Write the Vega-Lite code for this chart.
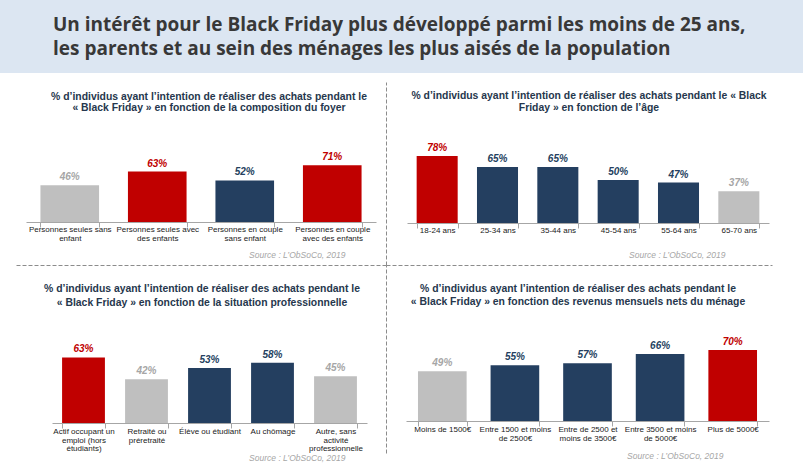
{
  "$schema": "https://vega.github.io/schema/vega-lite/v6.json",
  "padding": 0,
  "background": "white",
  "spacing": 0,
  "bounds": "flush",
  "config": {
    "view": {"stroke": null},
    "concat": {"spacing": 0},
    "font": "Liberation Sans",
    "axisX": {
      "domainColor": "#A6A6A6", "tickColor": "#A6A6A6", "tickSize": 5, "tickBand": "extent",
      "labelAngle": 0, "labelFont": "Liberation Sans", "labelFontSize": 8, "labelColor": "#1a1a1a",
      "labelLineHeight": 9, "labelPadding": -1.5, "labelOverlap": false, "labelBound": false,
      "titleFont": "Liberation Sans", "titleFontSize": 8.5, "titleFontStyle": "italic", "titleFontWeight": "normal",
      "titleColor": "#A6A6A6", "titleAlign": "right", "titleBaseline": "alphabetic", "grid": false
    },
    "title": {"font": "Liberation Sans", "fontSize": 10.4, "fontWeight": "bold", "color": "#26374d", "anchor": "middle", "frame": "group"}
  },
  "vconcat": [
    {
      "width": 803, "height": 73,
      "view": {"fill": "#DCE6F2", "stroke": null},
      "data": {"values": [
        {"line": 1, "text": "Un intérêt pour le Black Friday plus développé parmi les moins de 25 ans,"},
        {"line": 2, "text": "les parents et au sein des ménages les plus aisés de la population"}
      ]},
      "mark": {"type": "text", "align": "left", "baseline": "alphabetic", "dx": 53, "font": "Open Sans", "fontWeight": "bold", "fontSize": 19, "color": "#383838"},
      "encoding": {
        "x": {"datum": 0, "type": "quantitative", "scale": {"domain": [0, 1]}, "axis": null},
        "y": {"field": "line", "type": "ordinal", "scale": {"type": "point", "padding": 1.159, "align": 0.6275}, "axis": null},
        "text": {"field": "text"}
      }
    },
    {
      "columns": 2, "spacing": 0, "bounds": "flush", "align": "each",
      "concat": [
        {
          "width": 386, "height": 192,
          "title": {"text": ["% d’individus ayant l’intention de réaliser des achats pendant le", "« Black Friday » en fonction de la composition du foyer"], "dx": 16, "lineHeight": 11, "offset": -40},
          "layer": [
            {
              "data": {"values": [
                {"cat": "Personnes seules sans\nenfant", "v": 46, "g": "low"},
                {"cat": "Personnes seules avec\ndes enfants", "v": 63, "g": "high"},
                {"cat": "Personnes en couple\nsans enfant", "v": 52, "g": "mid"},
                {"cat": "Personnes en couple\navec des enfants", "v": 71, "g": "high"}
              ]},
              "transform": [{"calculate": "datum.v + '%'", "as": "lbl"}],
              "encoding": {
                "x": {"field": "cat", "type": "nominal", "sort": null, "scale": {"range": [26, 376], "paddingInner": 0.33, "paddingOuter": 0.165},
                  "axis": {"orient": "bottom", "offset": -43, "title": "Source : L’ObSoCo, 2019", "titleX": 345, "titleY": 35, "labelExpr": "split(datum.label, '\\n')", "labelPadding": -2}},
                "y": {"field": "v", "type": "quantitative", "scale": {"domain": [0, 100], "range": [149, 69]}, "axis": null}
              },
              "layer": [
                {"mark": {"type": "bar"}, "encoding": {"color": {"field": "g", "type": "nominal", "scale": {"domain": ["high", "mid", "low"], "range": ["#C00000", "#243F60", "#BFBFBF"]}, "legend": null}}},
                {"mark": {"type": "text", "dy": -5, "baseline": "alphabetic", "fontStyle": "italic", "fontWeight": "bold", "fontSize": 10},
                  "encoding": {"text": {"field": "lbl"}, "color": {"field": "g", "type": "nominal", "scale": {"domain": ["high", "mid", "low"], "range": ["#C00000", "#243F60", "#A6A6A6"]}, "legend": null}}}
              ],
              "resolve": {"scale": {"color": "independent"}}
            },
            {
              "data": {"values": [{}]},
              "mark": {"type": "point", "opacity": 0},
              "encoding": {
                "x": {"datum": 0, "type": "quantitative", "scale": {"domain": [0, 1], "range": [16, 386]},
                  "axis": {"orient": "bottom", "offset": 0, "ticks": false, "labels": false, "title": null, "domainDash": [4, 2], "domainColor": "#8c8c8c", "domainWidth": 1}}
              }
            }
          ],
          "resolve": {"scale": {"x": "independent", "y": "independent"}, "axis": {"x": "independent", "y": "independent"}}
        },
        {
          "width": 417, "height": 192,
          "title": {"text": ["% d’individus ayant l’intention de réaliser des achats pendant le « Black", "Friday » en fonction de l’âge"], "dx": -5.5, "lineHeight": 12, "offset": -40},
          "layer": [
            {
              "data": {"values": [
                {"cat": "18-24 ans", "v": 78, "g": "high"},
                {"cat": "25-34 ans", "v": 65, "g": "mid"},
                {"cat": "35-44 ans", "v": 65, "g": "mid"},
                {"cat": "45-54 ans", "v": 50, "g": "mid"},
                {"cat": "55-64 ans", "v": 47, "g": "mid"},
                {"cat": "65-70 ans", "v": 37, "g": "low"}
              ]},
              "transform": [{"calculate": "datum.v + '%'", "as": "lbl"}],
              "encoding": {
                "x": {"field": "cat", "type": "nominal", "sort": null, "scale": {"range": [21, 383], "paddingInner": 0.32, "paddingOuter": 0.16},
                  "axis": {"orient": "bottom", "offset": -42, "title": "Source : L’ObSoCo, 2019", "titleX": 339, "titleY": 34, "labelExpr": "split(datum.label, '\\n')", "labelPadding": -1.5}},
                "y": {"field": "v", "type": "quantitative", "scale": {"domain": [0, 100], "range": [150, 64]}, "axis": null}
              },
              "layer": [
                {"mark": {"type": "bar"}, "encoding": {"color": {"field": "g", "type": "nominal", "scale": {"domain": ["high", "mid", "low"], "range": ["#C00000", "#243F60", "#BFBFBF"]}, "legend": null}}},
                {"mark": {"type": "text", "dy": -5, "baseline": "alphabetic", "fontStyle": "italic", "fontWeight": "bold", "fontSize": 10},
                  "encoding": {"text": {"field": "lbl"}, "color": {"field": "g", "type": "nominal", "scale": {"domain": ["high", "mid", "low"], "range": ["#C00000", "#243F60", "#A6A6A6"]}, "legend": null}}}
              ],
              "resolve": {"scale": {"color": "independent"}}
            },
            {
              "data": {"values": [{}]},
              "mark": {"type": "point", "opacity": 0},
              "encoding": {
                "x": {"datum": 0, "type": "quantitative", "scale": {"domain": [0, 1], "range": [0, 386]},
                  "axis": {"orient": "bottom", "offset": 0, "ticks": false, "labels": false, "title": null, "domainDash": [4, 2], "domainColor": "#8c8c8c", "domainWidth": 1}},
                "y": {"datum": 0, "type": "quantitative", "scale": {"domain": [0, 1], "range": [192, 9]},
                  "axis": {"orient": "left", "offset": 0, "ticks": false, "labels": false, "title": null, "grid": false, "domainDash": [4, 2], "domainColor": "#8c8c8c", "domainWidth": 1}}
              }
            }
          ],
          "resolve": {"scale": {"x": "independent", "y": "independent"}, "axis": {"x": "independent", "y": "independent"}}
        },
        {
          "width": 386, "height": 201,
          "title": {"text": ["% d’individus ayant l’intention de réaliser des achats pendant le", "« Black Friday » en fonction de la situation professionnelle"], "dx": 9, "lineHeight": 14, "offset": -43},
          "layer": [
            {
              "data": {"values": [
                {"cat": "Actif occupant un\nemploi (hors\nétudiants)", "v": 63, "g": "high"},
                {"cat": "Retraité ou\npréretraité", "v": 42, "g": "low"},
                {"cat": "Élève ou étudiant", "v": 53, "g": "mid"},
                {"cat": "Au chômage", "v": 58, "g": "mid"},
                {"cat": "Autre, sans\nactivité\nprofessionnelle", "v": 45, "g": "low"}
              ]},
              "transform": [{"calculate": "datum.v + '%'", "as": "lbl"}],
              "encoding": {
                "x": {"field": "cat", "type": "nominal", "sort": null, "scale": {"range": [52, 367], "paddingInner": 0.32, "paddingOuter": 0.16},
                  "axis": {"orient": "bottom", "offset": -43, "title": "Source : L’ObSoCo, 2019", "titleX": 345, "titleY": 37, "labelExpr": "split(datum.label, '\\n')", "labelLineHeight": 8.5, "labelPadding": -0.5}},
                "y": {"field": "v", "type": "quantitative", "scale": {"domain": [0, 100], "range": [158, 54]}, "axis": null}
              },
              "layer": [
                {"mark": {"type": "bar"}, "encoding": {"color": {"field": "g", "type": "nominal", "scale": {"domain": ["high", "mid", "low"], "range": ["#C00000", "#243F60", "#BFBFBF"]}, "legend": null}}},
                {"mark": {"type": "text", "dy": -5, "baseline": "alphabetic", "fontStyle": "italic", "fontWeight": "bold", "fontSize": 10},
                  "encoding": {"text": {"field": "lbl"}, "color": {"field": "g", "type": "nominal", "scale": {"domain": ["high", "mid", "low"], "range": ["#C00000", "#243F60", "#A6A6A6"]}, "legend": null}}}
              ],
              "resolve": {"scale": {"color": "independent"}}
            }
          ]
        },
        {
          "width": 417, "height": 201,
          "title": {"text": ["% d’individus ayant l’intention de réaliser des achats pendant le", "« Black Friday » en fonction des revenus mensuels nets du ménage"], "dx": -16.5, "lineHeight": 12.5, "offset": -42},
          "layer": [
            {
              "data": {"values": [
                {"cat": "Moins de 1500€", "v": 49, "g": "low"},
                {"cat": "Entre 1500  et moins\nde 2500€", "v": 55, "g": "mid"},
                {"cat": "Entre de 2500  et\nmoins de 3500€", "v": 57, "g": "mid"},
                {"cat": "Entre 3500  et moins\nde 5000€", "v": 66, "g": "mid"},
                {"cat": "Plus de 5000€", "v": 70, "g": "high"}
              ]},
              "transform": [{"calculate": "datum.v + '%'", "as": "lbl"}],
              "encoding": {
                "x": {"field": "cat", "type": "nominal", "sort": null, "scale": {"range": [20, 383], "paddingInner": 0.33, "paddingOuter": 0.165},
                  "axis": {"orient": "bottom", "offset": -45, "title": "Source : L’ObSoCo, 2019", "titleX": 337, "titleY": 37, "labelExpr": "split(datum.label, '\\n')", "labelPadding": -0.5}},
                "y": {"field": "v", "type": "quantitative", "scale": {"domain": [0, 100], "range": [156, 54.5]}, "axis": null}
              },
              "layer": [
                {"mark": {"type": "bar"}, "encoding": {"color": {"field": "g", "type": "nominal", "scale": {"domain": ["high", "mid", "low"], "range": ["#C00000", "#243F60", "#BFBFBF"]}, "legend": null}}},
                {"mark": {"type": "text", "dy": -5, "baseline": "alphabetic", "fontStyle": "italic", "fontWeight": "bold", "fontSize": 10},
                  "encoding": {"text": {"field": "lbl"}, "color": {"field": "g", "type": "nominal", "scale": {"domain": ["high", "mid", "low"], "range": ["#C00000", "#243F60", "#A6A6A6"]}, "legend": null}}}
              ],
              "resolve": {"scale": {"color": "independent"}}
            },
            {
              "data": {"values": [{}]},
              "mark": {"type": "point", "opacity": 0},
              "encoding": {
                "y": {"datum": 0, "type": "quantitative", "scale": {"domain": [0, 1], "range": [188, 0]},
                  "axis": {"orient": "left", "offset": 0, "ticks": false, "labels": false, "title": null, "grid": false, "domainDash": [4, 2], "domainColor": "#8c8c8c", "domainWidth": 1}}
              }
            }
          ],
          "resolve": {"scale": {"x": "independent", "y": "independent"}, "axis": {"x": "independent", "y": "independent"}}
        }
      ]
    }
  ]
}
